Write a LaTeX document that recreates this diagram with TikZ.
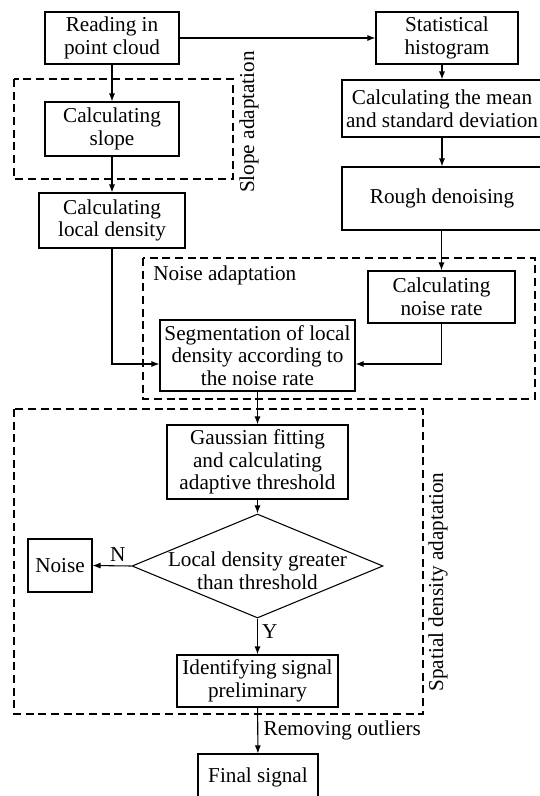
\documentclass[tikz,border=0pt]{standalone}
\usepackage{fontspec}
\setmainfont{Liberation Serif}
\usetikzlibrary{arrows.meta,calc,shapes.geometric}
\begin{document}
\begin{tikzpicture}[x=0.75pt,y=-0.75pt,
  font=\fontsize{15.9}{17}\selectfont,
  stepbox/.style 2 args={draw,line width=0.8pt,align=center,inner sep=1pt,
    minimum width=#1*0.75pt,minimum height=#2*0.75pt},
  grp/.style={draw,line width=0.8pt,dash pattern=on 6pt off 3.5pt},
  arr/.style={-{Latex[length=6pt,width=4.5pt]},line width=0.8pt},
  lbl/.style={inner sep=0pt}]
\useasboundingbox (0,0) rectangle (539,796);
% group frames
\draw[grp] (14,79) rectangle (233,179);
\draw[grp] (143,258) rectangle (535,399);
\draw[grp] (14,409) rectangle (423,714);
\node[lbl,rotate=90] (slopelbl) at (249,122) {Slope adaptation};
\node[lbl,anchor=west] (noiselbl) at (153,275) {Noise adaptation};
\node[lbl,rotate=90] (spatlbl) at (438,582) {Spatial density adaptation};
% steps
\node[stepbox={134}{52}] (read) at (112,38) {Reading in\\point cloud};
\node[stepbox={142}{52}] (stat) at (447,38) {Statistical\\histogram};
\node[stepbox={134}{54}] (slope) at (112,129) {Calculating\\slope};
\node[stepbox={146}{55}] (dens) at (112,220.5) {Calculating\\local density};
\node[stepbox={200}{57}] (mean) at (442,108.5) {Calculating the mean\\and standard deviation};
\node[stepbox={200}{63}] (rough) at (442,198.5) {Rough denoising};
\node[stepbox={147}{52}] (rate) at (441.5,297) {Calculating\\noise rate};
\node[stepbox={195}{71}] (seg) at (257.5,355.5) {Segmentation of local\\density according to\\the noise rate};
\node[stepbox={181}{74}] (gauss) at (257.5,462) {Gaussian fitting\\and calculating\\adaptive threshold};
\node[draw,line width=0.8pt,diamond,inner sep=0pt,minimum width=251*0.75pt,minimum height=104*0.75pt] (dia) at (257.5,566) {};
\node[lbl,align=center] (diatext) at (257.5,571) {Local density greater\\than threshold};
\node[stepbox={64}{53}] (noise) at (60,565.5) {Noise};
\node[stepbox={161}{52}] (ident) at (257.5,681) {Identifying signal\\preliminary};
\node[stepbox={120}{46}] (final) at (258,777) {Final signal};
% connectors
\draw[arr] (read) -- (slope);
\draw[arr] (slope) -- (dens);
\draw[arr] (read.east) -- (stat.west);
\draw[arr] (stat.south -| mean.north) -- (mean.north);
\draw[arr] (mean) -- (rough);
\draw[arr] (rough.south -| rate.north) -- (rate.north);
\coordinate (segL) at ($(seg.west)+(0,8.5)$);
\coordinate (segR) at ($(seg.east)+(0,8.5)$);
\draw[arr] (dens.south) |- (segL);
\draw[arr] (rate.south) |- (segR);
\draw[arr] (seg) -- (gauss);
\draw[arr] (gauss) -- (dia.north);
\draw[arr] (dia.west) -- node[lbl,above=3pt,pos=0.35] (nlbl) {N} (noise.east);
\draw[arr] (dia.south) -- node[lbl,right=3pt,pos=0.35] (ylbl) {Y} (ident.north);
\draw[arr] (ident) -- node[lbl,right=4pt,pos=0.5] (rmlbl) {Removing outliers} (final);
\end{tikzpicture}
\end{document}
